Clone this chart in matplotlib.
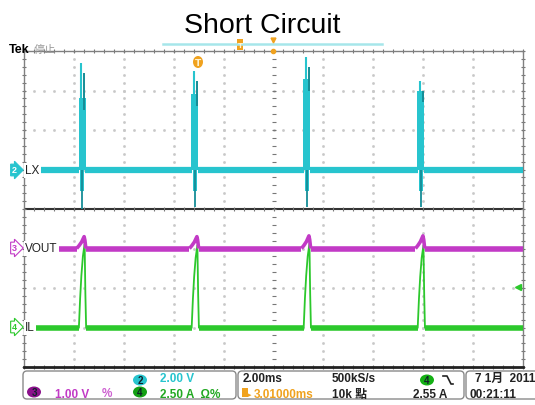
import numpy as np
import matplotlib.pyplot as plt
from matplotlib.patches import FancyBboxPatch, Ellipse, Rectangle

# valores (tiempo en ms, 2 ms/div)
pulse_ms = [2.33, 6.85, 11.34, 15.91]
lx_peak_v = [5.4, 5.0, 5.7, 4.5]
lx_block_v = [3.6, 3.8, 4.6, 4.0]
lx_low_v = [-2.0, -1.9, -1.9, -1.9]
vout_peak_v = [0.30, 0.30, 0.32, 0.32]
il_peak_a = [5.3, 5.2, 5.3, 5.2]
trig_level_a = 2.55

# forma de cada pulso (ms relativo al spike de LX, fraccion del pico)
il_dt = [-0.13, -0.08, -0.03, 0.03, 0.10, 0.13, 0.16]
il_frac = [0.0, 0.35, 0.62, 0.85, 1.0, 0.4, 0.0]
vout_dt = [-0.22, -0.12, -0.02, 0.08, 0.11, 0.15]
vout_frac = [0.0, 0.25, 0.55, 1.0, 0.7, 0.0]

# escalas y referencias (div)
lx_vdiv, vout_vdiv, il_adiv = 2.0, 1.0, 2.5
lx_ref, vout_ref, il_ref = 5, 3, 1

CYAN = '#27c4ce'
DCYAN = '#168c96'
MAG = '#c23ac6'
GRN = '#2cc82c'
ORG = '#f0a21e'
GRID = '#777777'

W, H = 535, 406
fig = plt.figure(figsize=(W / 100, H / 100), dpi=100)

# pantalla del osciloscopio: x 24..523 px, y 52..368 px
ax = fig.add_axes([24 / W, (H - 368) / H, 499 / W, 316 / H])
ax.set_xlim(0, 20)
ax.set_ylim(0, 8)
ax.set_xticks([])
ax.set_yticks([])
for s in ['left', 'right', 'top']:
    ax.spines[s].set_color('#808080')
    ax.spines[s].set_linewidth(1)
ax.spines['bottom'].set_color('#222')
ax.spines['bottom'].set_linewidth(2)
ax.axhline(4, color='#333', lw=1.5, zorder=1)

# reticula punteada
xminor = np.arange(0, 20.01, 0.4)
yminor = np.arange(0, 8.01, 0.2)
for k in range(1, 10):
    if k == 5:
        continue
    ax.plot([k * 2] * len(yminor), yminor, ls='none', marker='s', ms=0.9,
            color='#c8c8c8', zorder=0)
for k in range(1, 8):
    if k == 4:
        continue
    ax.plot(xminor, [k] * len(xminor), ls='none', marker='s', ms=0.9,
            color='#c8c8c8', zorder=0)
# marcas
for yy in [0, 4, 8]:
    ax.plot(xminor, [yy] * len(xminor), ls='none', marker='|', ms=3.2,
            mew=0.8, color=GRID, clip_on=False, zorder=1)
for xx in [0, 10, 20]:
    ax.plot([xx] * len(yminor), yminor, ls='none', marker='_', ms=3.2,
            mew=0.8, color=GRID, clip_on=False, zorder=1)

pulses = np.array(pulse_ms)

# LX (canal 2)
lx0 = lx_ref
seg_a = np.r_[0, pulses + 0.12]
seg_b = np.r_[pulses - 0.12, 20]
ax.hlines([lx0] * len(seg_a), seg_a, seg_b, color=CYAN, lw=4.5, zorder=3)
ax.bar(pulses, np.array(lx_block_v) / lx_vdiv, bottom=lx0, width=0.28,
       color=CYAN, lw=0, zorder=3)
ax.vlines(pulses - 0.04, lx0, lx0 + np.array(lx_peak_v) / lx_vdiv,
          color=CYAN, lw=1.5, zorder=3)
ax.vlines(pulses + 0.08, lx0 + np.array(lx_block_v) / lx_vdiv - 0.3,
          lx0 + np.array(lx_peak_v) / lx_vdiv - 0.25, color=DCYAN, lw=1.4, zorder=3)
ax.bar(pulses, [0.55] * len(pulses), bottom=lx0 - 0.55, width=0.14,
       color=CYAN, lw=0, zorder=3)
ax.vlines(pulses, lx0 + np.array(lx_low_v) / lx_vdiv, lx0,
          color=DCYAN, lw=1.3, zorder=3)

# VOUT (canal 3) e IL (canal 4)
seg_a = np.r_[0, pulses + 0.15]
seg_b = np.r_[pulses - 0.22, 20]
ax.hlines([vout_ref] * len(seg_a), seg_a, seg_b, color=MAG, lw=4, zorder=4)
seg_a = np.r_[0, pulses + 0.16]
seg_b = np.r_[pulses - 0.13, 20]
ax.hlines([il_ref] * len(seg_a), seg_a, seg_b, color=GRN, lw=4, zorder=3)
for p, vp, ip in zip(pulse_ms, vout_peak_v, il_peak_a):
    ax.plot(p + np.array(il_dt), il_ref + np.array(il_frac) * ip / il_adiv,
            color=GRN, lw=1.3, zorder=3)
    ax.plot(p + np.array(vout_dt), vout_ref + np.array(vout_frac) * vp / vout_vdiv,
            color=MAG, lw=2.6, zorder=4, solid_capstyle='butt')

# nivel de disparo
ax.plot([19.78], [il_ref + trig_level_a / il_adiv], marker='<', ms=4,
        color=GRN, clip_on=False, zorder=5)

# capa de anotaciones en pixeles
ov = fig.add_axes([0, 0, 1, 1], zorder=10)
ov.set_xlim(0, W)
ov.set_ylim(H, 0)
ov.axis('off')

SANS = ['Liberation Sans', 'Noto Sans CJK TC', 'DejaVu Sans']

ov.text(262, 33, 'Short Circuit', fontsize=20.5, family='Liberation Sans',
        ha='center', va='baseline')
ov.text(9, 53, 'Tek', fontsize=9, weight='bold', family='Liberation Sans',
        va='baseline')
ov.text(34, 53, '停止', fontsize=8, color='#999', family='Noto Sans CJK TC',
        va='baseline')

# barra de registro superior
ov.plot([163, 382], [45, 45], color='#a6e6ea', lw=1.8)
ov.add_patch(Rectangle((237, 40), 6, 11, fc=ORG, ec='none'))
ov.text(240, 46, 'T', fontsize=5, color='#fff3d0', ha='center', va='center',
        weight='bold')
ov.plot([273], [41], marker='v', ms=3.5, color=ORG)
ov.plot([273], [52], marker='o', ms=3, color=ORG)
ov.add_patch(Ellipse((198, 63), 10, 12, fc=ORG, ec='none'))
ov.text(198, 63.5, 'T', fontsize=6.5, color='#fff3d0', ha='center', va='center',
        weight='bold')

# etiquetas de canal
def tag(y, num, fc, ec, tc, name):
    ov.text(12, y, num, fontsize=6.5, weight='bold', color=tc, ha='left',
            va='center', family='Liberation Sans',
            bbox=dict(boxstyle='rarrow,pad=0.15', fc=fc, ec=ec, lw=0.8))
    ov.text(25, y + 0.5, name, fontsize=8.5, color='#222', va='center',
            family='Liberation Sans',
            bbox=dict(boxstyle='square,pad=0.1', fc='white', ec='none'))

tag(171, '2', CYAN, CYAN, 'white', 'LX')
tag(249, '3', 'white', MAG, MAG, 'VOUT')
tag(328, '4', 'white', GRN, GRN, 'IL')

# barra de estado
for x0, w in [(23, 213), (238, 226), (466, 80)]:
    ov.add_patch(FancyBboxPatch((x0, 372), w, 28,
                                boxstyle='round,pad=0,rounding_size=4',
                                fc='white', ec='#8a8a8a', lw=1))

def badge(x, y, num, fc):
    ov.add_patch(Ellipse((x, y), 14, 11, fc=fc, ec='none'))
    ov.text(x, y + 0.5, num, fontsize=7, weight='bold', color='#10202a',
            ha='center', va='center', family='Liberation Sans')

def stat(x, y, s, c='#222', size=8.5, **kw):
    ov.text(x, y, s, fontsize=size, weight='bold', color=c, family=SANS,
            va='baseline', **kw)

badge(140, 381, '2', CYAN)
stat(160, 382, '2.00 V', CYAN)
badge(34, 393, '3', '#8c118c')
stat(55, 398, '1.00 V', MAG)
stat(102, 397, '%', MAG, alpha=0.8)
badge(140, 393, '4', '#14a014')
stat(160, 398, '2.50 A  Ω%', '#22a822')

stat(243, 382, '2.00ms')
stat(332, 382, '500kS/s')
badge(427, 381, '4', '#14b014')
ov.plot([443, 447, 451, 453], [377, 377, 385, 385], color='#222', lw=1.2)
ov.add_patch(Rectangle((242, 389), 6, 9, fc=ORG, ec='none'))
stat(248, 397, '▸', ORG, size=5)
stat(254, 398, '3.01000ms', ORG)
stat(332, 398, '10k 點')
stat(413, 398, '2.55 A')
stat(475, 382, '7 1月  2011')
stat(469, 398, '00:21:11')

fig.savefig('out.png', dpi=100)
